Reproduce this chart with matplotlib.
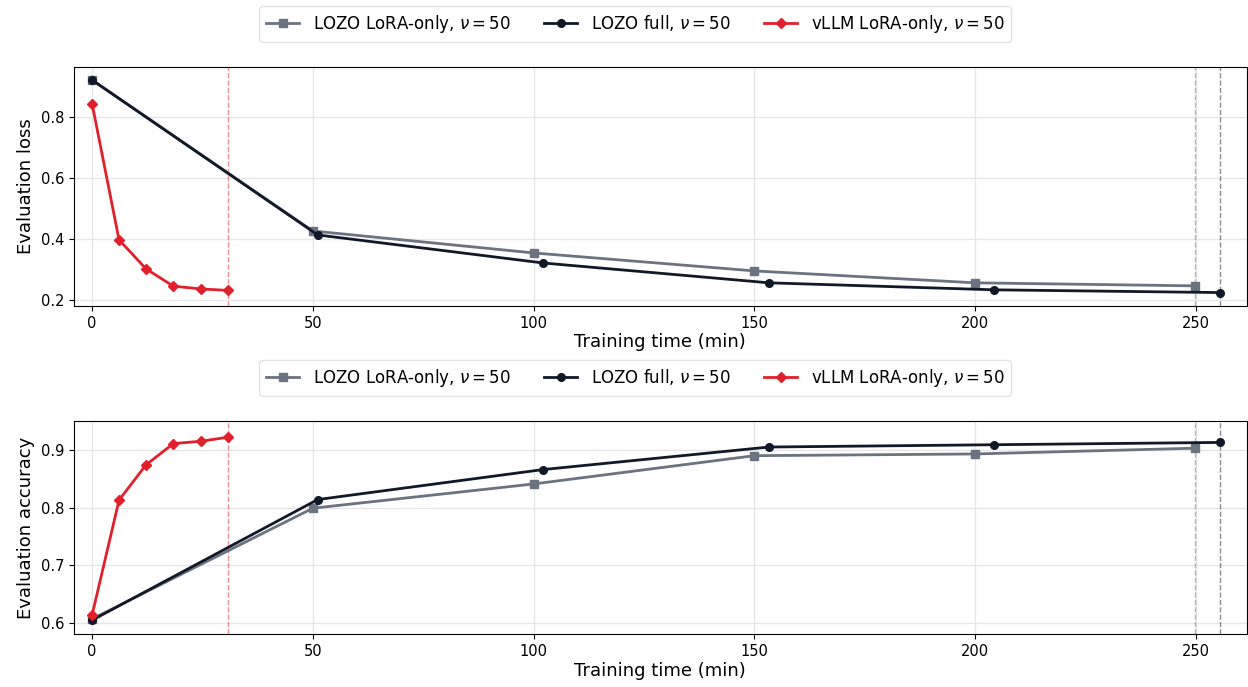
import numpy as np
import matplotlib
matplotlib.use("Agg")
import matplotlib.pyplot as plt

# series: training time (min) and evaluation metrics
lora_time = [0, 50, 100, 150, 200, 249.8]
lora_loss = [0.921, 0.426, 0.354, 0.295, 0.256, 0.246]
lora_acc = [0.607, 0.799, 0.841, 0.890, 0.893, 0.903]

full_time = [0, 51.1, 102.2, 153.3, 204.4, 255.6]
full_loss = [0.921, 0.413, 0.321, 0.256, 0.233, 0.224]
full_acc = [0.605, 0.814, 0.866, 0.905, 0.909, 0.913]

vllm_time = [0, 6.1, 12.2, 18.4, 24.6, 30.8]
vllm_loss = [0.843, 0.397, 0.302, 0.245, 0.236, 0.231]
vllm_acc = [0.614, 0.813, 0.874, 0.911, 0.915, 0.922]

labels = [r"LOZO LoRA-only, $\nu=50$", r"LOZO full, $\nu=50$", r"vLLM LoRA-only, $\nu=50$"]
colors = ["#6b7280", "#111827", "#e0202b"]
markers = ["s", "o", "D"]

fig = plt.figure(figsize=(12.48, 6.87), dpi=100)
ax1 = fig.add_axes([0.0593, 0.5546, 0.9395, 0.348])
ax2 = fig.add_axes([0.0593, 0.0771, 0.9395, 0.310])

panels = [
    (ax1, [lora_loss, full_loss, vllm_loss], "Evaluation loss", (0.18, 0.964), [0.2, 0.4, 0.6, 0.8], 0.965),
    (ax2, [lora_acc, full_acc, vllm_acc], "Evaluation accuracy", (0.581, 0.950), [0.6, 0.7, 0.8, 0.9], 0.45),
]
times = [lora_time, full_time, vllm_time]

for ax, ys, ylabel, ylim, yticks, leg_y in panels:
    handles = []
    for t, y, c, m, lab in zip(times, ys, colors, markers, labels):
        h, = ax.plot(t, y, color=c, marker=m, markersize=5.5, linewidth=2, label=lab, zorder=3)
        handles.append(h)
        ax.axvline(t[-1], color=c, linestyle="--", linewidth=1, alpha=0.5, zorder=2)
    ax.set_xlim(-4.1, 261.5)
    ax.set_ylim(*ylim)
    ax.set_xticks([0, 50, 100, 150, 200, 250])
    ax.set_yticks(yticks)
    ax.grid(True, color="#e6e6e6", linewidth=1)
    ax.set_axisbelow(True)
    ax.tick_params(labelsize=10.5)
    ax.set_ylabel(ylabel, fontsize=13)
    ax.set_xlabel("Training time (min)", fontsize=13, labelpad=2)
    fig.legend(handles=handles, loc="center", bbox_to_anchor=(0.509, leg_y), ncol=3,
               fontsize=12, frameon=True, edgecolor="#dddddd", columnspacing=2.0)

fig.savefig("out.png", dpi=100)
